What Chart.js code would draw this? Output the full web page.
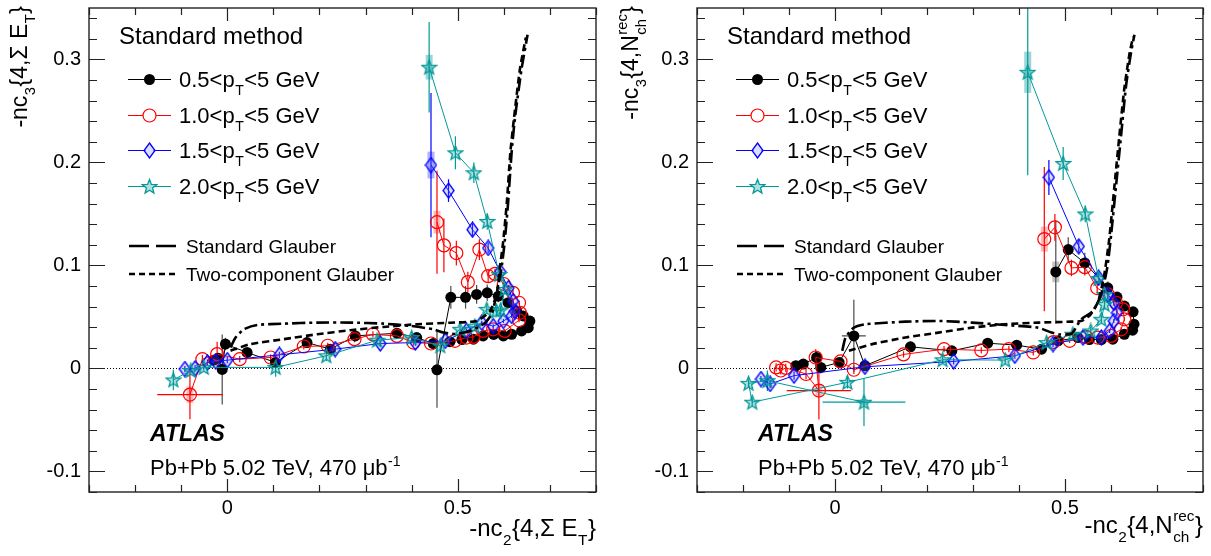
<!DOCTYPE html>
<html>
<head>
<meta charset="utf-8">
<script src="https://cdn.jsdelivr.net/npm/chart.js@4.4.1/dist/chart.umd.min.js"></script>
<style>
  html, body { margin: 0; padding: 0; background: #fff; }
  #wrap { position: relative; width: 1211px; height: 556px; overflow: hidden; background: #fff; }
  canvas { position: absolute; top: 0; }
  #left { left: 0; }
  #right { left: 605px; }
</style>
</head>
<body>
<div id="wrap">
  <canvas id="left" width="605" height="556"></canvas>
  <canvas id="right" width="606" height="556"></canvas>
</div>
<script>
// ---- axis ranges and tick labels ----
const X_MIN = -0.3, X_MAX = 0.8;
const Y_MIN = -0.12, Y_MAX = 0.35;
const xTickLabels = [0, 0.5];
const yTickLabels = [-0.1, 0, 0.1, 0.2, 0.3];

const ptCuts = ['0.5', '1.0', '1.5', '2.0'];
const glauberLabels = ['Standard Glauber', 'Two-component Glauber'];

// ---- left panel: -nc3{4,SumET} vs -nc2{4,SumET} ----
const L_black_x = [-0.030, -0.020, -0.011, -0.004, 0.043, 0.1045, 0.173, 0.2236, 0.2777, 0.368, 0.411, 0.447, 0.483, 0.509, 0.534, 0.555, 0.578, 0.599, 0.617, 0.6385, 0.653, 0.6565, 0.642, 0.628, 0.6095, 0.588, 0.564, 0.541, 0.517, 0.485, 0.455];
const L_black_y = [0.008, 0.010, -0.001, 0.0236, 0.0155, 0.0058, 0.0251, 0.0187, 0.0316, 0.0342, 0.030, 0.0242, 0.026, 0.028, 0.0284, 0.0316, 0.033, 0.0316, 0.0332, 0.0364, 0.0396, 0.046, 0.051, 0.0557, 0.0638, 0.0702, 0.0734, 0.0719, 0.069, 0.069, -0.0013];
const L_black_err = [0.004, 0.004, 0.034, 0.006, 0.004, 0.004, 0.003, 0.003, 0.003, 0.003, 0.003, 0.003, 0.002, 0.002, 0.002, 0.002, 0.002, 0.002, 0.002, 0.002, 0.002, 0.002, 0.003, 0.003, 0.004, 0.006, 0.008, 0.009, 0.011, 0.011, 0.037];

const L_red_x = [-0.081, -0.054, -0.022, 0.027, 0.094, 0.166, 0.218, 0.276, 0.316, 0.368, 0.404, 0.442, 0.494, 0.519, 0.534, 0.555, 0.577, 0.602, 0.633, 0.635, 0.633, 0.620, 0.600, 0.581, 0.566, 0.547, 0.522, 0.497, 0.470, 0.455];
const L_red_y = [-0.0254, 0.009, 0.0139, 0.009, 0.0106, 0.0213, 0.022, 0.0284, 0.033, 0.0316, 0.0251, 0.0242, 0.0268, 0.030, 0.0306, 0.0364, 0.038, 0.0364, 0.0468, 0.054, 0.0638, 0.0734, 0.082, 0.0918, 0.0896, 0.1154, 0.0838, 0.112, 0.1195, 0.142];
const L_red_err = [0.024, 0.004, 0.012, 0.003, 0.003, 0.003, 0.003, 0.003, 0.003, 0.003, 0.003, 0.003, 0.002, 0.002, 0.002, 0.002, 0.002, 0.002, 0.002, 0.002, 0.002, 0.003, 0.004, 0.005, 0.006, 0.010, 0.010, 0.012, 0.026, 0.050];
const L_red_xerr = [0.071, 0, 0, 0, 0, 0, 0, 0, 0, 0, 0, 0, 0, 0, 0, 0, 0, 0, 0, 0, 0, 0, 0, 0, 0, 0, 0, 0, 0, 0];
const L_red_sys = [0.008, 0, 0, 0, 0, 0, 0, 0, 0, 0, 0, 0, 0, 0, 0, 0, 0, 0, 0, 0, 0, 0, 0, 0, 0, 0, 0, 0, 0, 0.011];

const L_blue_x = [-0.092, -0.070, -0.043, -0.025, 0.000, 0.113, 0.234, 0.332, 0.408, 0.473, 0.519, 0.552, 0.577, 0.599, 0.617, 0.624, 0.620, 0.610, 0.592, 0.566, 0.532, 0.480, 0.442];
const L_blue_y = [-0.0006, 0.000, 0.0058, 0.0068, 0.008, 0.0132, 0.0187, 0.0242, 0.0251, 0.0268, 0.0364, 0.0444, 0.041, 0.046, 0.051, 0.0557, 0.0654, 0.078, 0.094, 0.117, 0.1347, 0.1727, 0.1975];
const L_blue_err = [0.003, 0.003, 0.003, 0.003, 0.003, 0.003, 0.003, 0.003, 0.003, 0.002, 0.002, 0.002, 0.002, 0.002, 0.002, 0.002, 0.002, 0.003, 0.004, 0.005, 0.006, 0.011, 0.070];
const L_blue_sys = [0, 0, 0, 0, 0, 0, 0, 0, 0, 0, 0, 0, 0, 0, 0, 0, 0, 0, 0, 0, 0, 0, 0.013];

const L_teal_x = [-0.117, -0.079, -0.051, 0.105, 0.215, 0.325, 0.400, 0.462, 0.505, 0.537, 0.563, 0.584, 0.593, 0.602, 0.590, 0.564, 0.535, 0.495, 0.438];
const L_teal_y = [-0.0112, -0.002, 0.001, 0.001, 0.0123, 0.0274, 0.030, 0.022, 0.038, 0.041, 0.0574, 0.0557, 0.0567, 0.0767, 0.0912, 0.1427, 0.190, 0.2094, 0.2925];
const L_teal_err = [0.010, 0.003, 0.003, 0.009, 0.005, 0.004, 0.004, 0.006, 0.004, 0.004, 0.004, 0.004, 0.004, 0.005, 0.006, 0.008, 0.010, 0.016, 0.044];
const L_teal_sys = [0, 0, 0, 0, 0, 0, 0, 0, 0, 0, 0, 0, 0, 0, 0, 0, 0, 0, 0.012];

const L_std_x = [0.007, 0.018, 0.036, 0.065, 0.1225, 0.195, 0.267, 0.339, 0.397, 0.447, 0.469, 0.494, 0.527, 0.559, 0.5736, 0.5844, 0.595, 0.602, 0.6095, 0.617, 0.624, 0.6385, 0.6515];
const L_std_y = [0.0203, 0.030, 0.038, 0.0422, 0.0435, 0.0445, 0.0445, 0.0435, 0.0413, 0.038, 0.0348, 0.0335, 0.0364, 0.0442, 0.0528, 0.0722, 0.0976, 0.1234, 0.162, 0.2103, 0.2425, 0.2908, 0.324];
const L_two_x = [0.007, 0.050, 0.1225, 0.195, 0.267, 0.339, 0.411, 0.483, 0.541, 0.570, 0.5844, 0.5916, 0.5987, 0.6067, 0.6143, 0.6219, 0.6349, 0.6478];
const L_two_y = [0.0171, 0.0236, 0.0284, 0.0332, 0.0371, 0.0403, 0.0429, 0.0444, 0.0461, 0.0557, 0.0722, 0.098, 0.1234, 0.162, 0.2103, 0.2422, 0.2905, 0.3214];

// ---- right panel: -nc3{4,Nch} vs -nc2{4,Nch} ----
const R_black_x = [-0.085, -0.069, -0.040, -0.031, 0.009, 0.041, 0.065, 0.164, 0.254, 0.332, 0.395, 0.449, 0.485, 0.528, 0.553, 0.579, 0.604, 0.629, 0.647, 0.650, 0.648, 0.629, 0.613, 0.593, 0.543, 0.507, 0.480];
const R_black_y = [0.0026, 0.0042, 0.0106, 0.001, 0.0058, 0.0316, 0.0026, 0.021, 0.0171, 0.0245, 0.0226, 0.0187, 0.0268, 0.030, 0.028, 0.028, 0.0284, 0.0332, 0.0371, 0.043, 0.055, 0.0606, 0.0693, 0.0783, 0.1024, 0.1154, 0.0937];
const R_black_err = [0.004, 0.004, 0.006, 0.006, 0.004, 0.035, 0.004, 0.003, 0.003, 0.003, 0.003, 0.003, 0.003, 0.002, 0.002, 0.002, 0.002, 0.002, 0.002, 0.002, 0.003, 0.004, 0.005, 0.006, 0.010, 0.012, 0.050];
const R_black_xerr = [0, 0, 0, 0, 0, 0.026, 0, 0, 0, 0, 0, 0, 0, 0, 0, 0, 0, 0, 0, 0, 0, 0, 0, 0, 0, 0, 0];
const R_black_sys = [0, 0, 0, 0, 0, 0, 0, 0, 0, 0, 0, 0, 0, 0, 0, 0, 0, 0, 0, 0, 0, 0, 0, 0, 0, 0, 0.01];

const R_red_x = [-0.128, -0.118, -0.107, -0.063, -0.035, -0.042, 0.012, 0.041, 0.149, 0.237, 0.318, 0.378, 0.431, 0.475, 0.510, 0.546, 0.571, 0.600, 0.622, 0.629, 0.626, 0.611, 0.593, 0.570, 0.543, 0.514, 0.478, 0.455];
const R_red_y = [0.001, -0.002, 0.0005, -0.0054, -0.0215, 0.0106, 0.0068, -0.0013, 0.0136, 0.0187, 0.0175, 0.0187, 0.0155, 0.0256, 0.0268, 0.0306, 0.030, 0.0316, 0.038, 0.0477, 0.0574, 0.0638, 0.0719, 0.078, 0.0983, 0.0976, 0.137, 0.1256];
const R_red_err = [0.004, 0.004, 0.004, 0.005, 0.028, 0.008, 0.004, 0.004, 0.003, 0.003, 0.003, 0.003, 0.003, 0.003, 0.002, 0.002, 0.002, 0.002, 0.002, 0.002, 0.002, 0.003, 0.004, 0.005, 0.008, 0.008, 0.013, 0.070];
const R_red_xerr = [0, 0, 0, 0, 0.07, 0.008, 0, 0, 0, 0, 0, 0, 0, 0, 0, 0, 0, 0, 0, 0, 0, 0, 0, 0, 0, 0, 0, 0];
const R_red_sys = [0, 0, 0, 0, 0.006, 0, 0, 0, 0, 0, 0, 0, 0, 0, 0, 0, 0, 0, 0, 0, 0, 0, 0, 0, 0, 0, 0, 0.012];

const R_blue_x = [-0.161, -0.141, -0.089, 0.065, 0.258, 0.391, 0.474, 0.539, 0.579, 0.597, 0.606, 0.613, 0.606, 0.593, 0.573, 0.530, 0.465];
const R_blue_y = [-0.0103, -0.0151, -0.007, 0.0016, 0.0068, 0.0123, 0.0236, 0.030, 0.030, 0.0364, 0.046, 0.054, 0.0638, 0.0719, 0.088, 0.1185, 0.1855];
const R_blue_err = [0.003, 0.004, 0.004, 0.003, 0.003, 0.003, 0.003, 0.002, 0.002, 0.002, 0.002, 0.003, 0.003, 0.004, 0.005, 0.006, 0.017];

const R_teal_x = [0.063, -0.147, -0.188, -0.180, 0.027, 0.234, 0.370, 0.460, 0.517, 0.556, 0.579, 0.586, 0.586, 0.573, 0.544, 0.496, 0.419];
const R_teal_y = [-0.0328, -0.0119, -0.0145, -0.0328, -0.0135, 0.0084, 0.0081, 0.0251, 0.0332, 0.0364, 0.0477, 0.0622, 0.0719, 0.0873, 0.150, 0.199, 0.2876];
const R_teal_err = [0.023, 0.010, 0.004, 0.004, 0.006, 0.004, 0.004, 0.004, 0.004, 0.004, 0.004, 0.005, 0.005, 0.006, 0.008, 0.016, 0.100];
const R_teal_xerr = [0.09, 0, 0, 0, 0, 0, 0, 0, 0, 0, 0, 0, 0, 0, 0, 0, 0];
const R_teal_sys = [0.003, 0, 0, 0, 0, 0, 0, 0, 0, 0, 0, 0, 0, 0, 0, 0, 0.02];

const R_std_x = [0.0158, 0.023, 0.041, 0.0664, 0.153, 0.225, 0.2977, 0.3695, 0.4416, 0.4704, 0.49, 0.515, 0.535, 0.5606, 0.5786, 0.5917, 0.6003, 0.6111, 0.622, 0.6328, 0.6436, 0.651];
const R_std_y = [0.0171, 0.030, 0.0396, 0.0429, 0.0454, 0.0461, 0.0445, 0.0422, 0.0396, 0.0348, 0.033, 0.034, 0.0477, 0.0557, 0.0719, 0.0976, 0.1299, 0.178, 0.2265, 0.2748, 0.307, 0.324];
const R_two_x = [0.0303, 0.081, 0.153, 0.225, 0.2977, 0.3695, 0.4416, 0.5137, 0.535, 0.555, 0.572, 0.585, 0.596, 0.607, 0.618, 0.629, 0.640, 0.648];
const R_two_y = [0.0171, 0.0236, 0.030, 0.0348, 0.0396, 0.0429, 0.0445, 0.0454, 0.046, 0.052, 0.065, 0.090, 0.125, 0.175, 0.225, 0.272, 0.305, 0.322];

// ---- styling ----
const FONT = '"Liberation Sans", Arial, Helvetica, sans-serif';
const TEAL = 'rgb(0,153,153)';
const STYLES = {
  black: { color: '#000000', err: '#4a4a4a', sys: 'rgba(120,120,120,0.45)', marker: 'fcircle' },
  red:   { color: '#ff0000', err: '#ff0000', sys: 'rgba(255,80,80,0.4)', marker: 'ocircle' },
  blue:  { color: '#0000ff', err: '#0000ff', sys: 'rgba(60,60,255,0.4)', marker: 'diamond' },
  teal:  { color: TEAL, err: TEAL, sys: 'rgba(0,153,153,0.4)', marker: 'star' }
};

function diamondMarker(color) {
  const c = document.createElement('canvas');
  c.width = 13; c.height = 17;
  const g = c.getContext('2d');
  g.strokeStyle = color; g.lineWidth = 1.3;
  g.beginPath();
  g.moveTo(6.5, 1); g.lineTo(12, 8.5); g.lineTo(6.5, 16); g.lineTo(1, 8.5); g.closePath();
  g.fillStyle = 'rgba(120,120,255,0.25)'; g.fill();
  g.stroke();
  return c;
}
function starMarker(color) {
  const c = document.createElement('canvas');
  c.width = 17; c.height = 17;
  const g = c.getContext('2d');
  g.strokeStyle = color; g.lineWidth = 1.3;
  g.beginPath();
  for (let k = 0; k < 10; k++) {
    const r = k % 2 === 0 ? 7.5 : 3.2;
    const a = -Math.PI / 2 + k * Math.PI / 5;
    const px = 8.5 + r * Math.cos(a), py = 9 + r * Math.sin(a);
    if (k === 0) g.moveTo(px, py); else g.lineTo(px, py);
  }
  g.closePath();
  g.fillStyle = 'rgba(0,153,153,0.3)'; g.fill();
  g.stroke();
  return c;
}
const DIAMOND = diamondMarker('#0000ff');
const STAR = starMarker(TEAL);

function seriesDataset(xs, ys, style) {
  const ds = {
    data: xs.map((x, i) => ({ x: x, y: ys[i] })),
    showLine: true,
    borderColor: style.color,
    borderWidth: 1,
    tension: 0,
    pointBorderColor: style.color
  };
  if (style.marker === 'fcircle') {
    Object.assign(ds, { pointStyle: 'circle', pointRadius: 5.5, pointBackgroundColor: style.color, pointBorderWidth: 0 });
  } else if (style.marker === 'ocircle') {
    Object.assign(ds, { pointStyle: 'circle', pointRadius: 6.5, pointBackgroundColor: 'rgba(0,0,0,0)', pointBorderWidth: 1.2 });
  } else if (style.marker === 'diamond') {
    Object.assign(ds, { pointStyle: DIAMOND, pointRadius: 7 });
  } else {
    Object.assign(ds, { pointStyle: STAR, pointRadius: 7 });
  }
  return ds;
}

function curveDataset(xs, ys, dash) {
  return {
    data: xs.map((x, i) => ({ x: x, y: ys[i] })),
    showLine: true,
    borderColor: '#000',
    borderWidth: 2.6,
    borderDash: dash,
    pointRadius: 0,
    tension: 0.2
  };
}

// ---- text helpers (sub/superscripts) ----
function font(size, style) { return (style || '') + ' ' + size + 'px ' + FONT; }

function drawRich(ctx, parts, x, y, size, align) {
  const sm = size * 0.64;
  ctx.textAlign = 'left';
  ctx.textBaseline = 'alphabetic';
  const widths = parts.map(p => {
    if (!p.k) { ctx.font = font(size); return ctx.measureText(p.t).width; }
    ctx.font = font(sm);
    let w = ctx.measureText(p.t).width;
    if (p.t2) w = Math.max(w, ctx.measureText(p.t2).width);
    return w + 1;
  });
  const total = widths.reduce((a, b) => a + b, 0);
  let cx = align === 'right' ? x - total : x;
  parts.forEach((p, i) => {
    if (!p.k) { ctx.font = font(size); ctx.fillText(p.t, cx, y); }
    else {
      ctx.font = font(sm);
      if (p.k === 'sub' || p.k === 'subsup') ctx.fillText(p.t, cx + 0.5, y + size * 0.36);
      if (p.k === 'sup') ctx.fillText(p.t, cx + 0.5, y - size * 0.42);
      if (p.k === 'subsup') ctx.fillText(p.t2, cx + 0.5, y - size * 0.5);
    }
    cx += widths[i];
  });
  return total;
}

function legendMarker(ctx, style, x, y) {
  ctx.save();
  if (style.marker === 'fcircle') {
    ctx.fillStyle = style.color; ctx.beginPath(); ctx.arc(x, y, 5.5, 0, Math.PI * 2); ctx.fill();
  } else if (style.marker === 'ocircle') {
    ctx.fillStyle = '#fff'; ctx.strokeStyle = style.color; ctx.lineWidth = 1.2;
    ctx.beginPath(); ctx.arc(x, y, 6.5, 0, Math.PI * 2); ctx.fill(); ctx.stroke();
  } else {
    const img = style.marker === 'diamond' ? DIAMOND : STAR;
    ctx.fillStyle = '#fff'; ctx.fillRect(x - 4, y - 4, 8, 8);
    ctx.drawImage(img, x - img.width / 2, y - img.height / 2);
  }
  ctx.restore();
}

// ---- panel builder ----
function buildPanel(canvasId, panel) {
  const decor = {
    id: 'decor',
    beforeDatasetsDraw(chart) {
      const { ctx, chartArea: a } = chart;
      const xs = chart.scales.x, ys = chart.scales.y;
      ctx.save();
      ctx.beginPath();
      ctx.rect(a.left, a.top, a.right - a.left, a.bottom - a.top);
      ctx.clip();
      // dotted zero line
      const y0 = Math.round(ys.getPixelForValue(0)) + 0.5;
      ctx.strokeStyle = '#000'; ctx.lineWidth = 1; ctx.setLineDash([1, 2]);
      ctx.beginPath(); ctx.moveTo(a.left, y0); ctx.lineTo(a.right, y0); ctx.stroke();
      ctx.setLineDash([]);
      // systematic bands and error bars, back to front
      for (let s = panel.series.length - 1; s >= 0; s--) {
        const ser = panel.series[s];
        for (let i = 0; i < ser.x.length; i++) {
          const px = xs.getPixelForValue(ser.x[i]);
          const py = ys.getPixelForValue(ser.y[i]);
          if (ser.sys && ser.sys[i]) {
            const t = ys.getPixelForValue(ser.y[i] + ser.sys[i]);
            const b = ys.getPixelForValue(ser.y[i] - ser.sys[i]);
            ctx.fillStyle = ser.style.sys;
            ctx.fillRect(px - 3.5, t, 7, b - t);
          }
          ctx.strokeStyle = ser.style.err; ctx.lineWidth = 1.2;
          ctx.beginPath();
          if (ser.err && ser.err[i]) {
            ctx.moveTo(px, ys.getPixelForValue(ser.y[i] + ser.err[i]));
            ctx.lineTo(px, ys.getPixelForValue(ser.y[i] - ser.err[i]));
          }
          if (ser.xerr && ser.xerr[i]) {
            ctx.moveTo(xs.getPixelForValue(ser.x[i] - ser.xerr[i]), py);
            ctx.lineTo(xs.getPixelForValue(ser.x[i] + ser.xerr[i]), py);
          }
          ctx.stroke();
        }
      }
      ctx.restore();
    },
    afterDatasetsDraw(chart) {
      const { ctx, chartArea: a } = chart;
      const xs = chart.scales.x, ys = chart.scales.y;
      ctx.save();
      ctx.strokeStyle = '#222'; ctx.lineWidth = 1.4;
      ctx.strokeRect(a.left, a.top, a.right - a.left, a.bottom - a.top);
      ctx.lineWidth = 1.2;
      ctx.beginPath();
      for (let k = -3; k <= 8; k++) {
        const px = Math.round(xs.getPixelForValue(k / 10)) + 0.5;
        const len = k % 5 === 0 ? 13 : 7;
        ctx.moveTo(px, a.bottom); ctx.lineTo(px, a.bottom - len);
        ctx.moveTo(px, a.top); ctx.lineTo(px, a.top + len);
      }
      for (let k = -12; k <= 34; k += 2) {
        const py = Math.round(ys.getPixelForValue(k / 100)) + 0.5;
        const len = k % 10 === 0 ? 16 : 8;
        ctx.moveTo(a.left, py); ctx.lineTo(a.left + len, py);
        ctx.moveTo(a.right, py); ctx.lineTo(a.right - len, py);
      }
      ctx.stroke();
      ctx.restore();
    },
    afterDraw(chart) {
      const { ctx, chartArea: a } = chart;
      const L = a.left;
      ctx.save();
      ctx.fillStyle = '#000';
      ctx.textAlign = 'left'; ctx.textBaseline = 'alphabetic';
      ctx.font = font(24);
      ctx.fillText('Standard method', L + 30, 44);
      const rows = [79, 115, 150, 186];
      panel.series.slice().reverse().forEach((ser, i) => {
        const yc = rows[i];
        ctx.strokeStyle = ser.style.color; ctx.lineWidth = 1;
        ctx.beginPath(); ctx.moveTo(L + 39, yc + 0.5); ctx.lineTo(L + 82, yc + 0.5); ctx.stroke();
        legendMarker(ctx, ser.style, L + 60.5, yc + 0.5);
        ctx.fillStyle = '#000';
        drawRich(ctx, [{ t: ptCuts[i] + '<p' }, { t: 'T', k: 'sub' }, { t: '<5 GeV' }], L + 90, yc + 8, 22);
      });
      // Glauber legend
      ctx.strokeStyle = '#000'; ctx.lineWidth = 2.6;
      ctx.setLineDash([20, 7]);
      ctx.beginPath(); ctx.moveTo(L + 40, 246); ctx.lineTo(L + 87, 246); ctx.stroke();
      ctx.setLineDash([6, 4]);
      ctx.beginPath(); ctx.moveTo(L + 40, 274); ctx.lineTo(L + 87, 274); ctx.stroke();
      ctx.setLineDash([]);
      ctx.font = font(19);
      ctx.fillText(glauberLabels[0], L + 97, 253);
      ctx.fillText(glauberLabels[1], L + 97, 281);
      // ATLAS label
      ctx.font = font(23, 'italic bold');
      ctx.fillText('ATLAS', L + 61, 441);
      drawRich(ctx, [{ t: 'Pb+Pb 5.02 TeV, 470 \u03bcb' }, { t: '-1', k: 'sup' }], L + 61, 475, 22);
      // x title
      drawRich(ctx, panel.xTitle, a.right, panel.xTitleY, 24, 'right');
      // y title (rotated, right aligned to the top)
      ctx.translate(panel.yTitleX, a.top - 2);
      ctx.rotate(-Math.PI / 2);
      drawRich(ctx, panel.yTitle, 0, 0, 23, 'right');
      ctx.restore();
    }
  };

  const datasets = [
    curveDataset(panel.std.x, panel.std.y, [13, 4, 3, 4]),
    curveDataset(panel.two.x, panel.two.y, [7, 4])
  ].concat(panel.series.map(s => seriesDataset(s.x, s.y, s.style)));

  const tickFont = { family: FONT, size: 20 };
  return new Chart(document.getElementById(canvasId), {
    type: 'scatter',
    data: { datasets: datasets },
    options: {
      responsive: false,
      animation: false,
      devicePixelRatio: 1,
      layout: { padding: { left: 0, top: 5, right: panel.padRight, bottom: 0 } },
      plugins: { legend: { display: false }, tooltip: { enabled: false } },
      scales: {
        x: {
          type: 'linear', min: X_MIN, max: X_MAX,
          afterBuildTicks: s => { s.ticks = xTickLabels.map(v => ({ value: v })); },
          afterFit: s => { s.height = 64; s.paddingLeft = 0; s.paddingRight = 0; },
          grid: { display: false, drawTicks: false },
          border: { display: false },
          ticks: { font: tickFont, color: '#000', padding: 4, maxRotation: 0, autoSkip: false,
                   callback: v => String(v) }
        },
        y: {
          type: 'linear', min: Y_MIN, max: Y_MAX,
          afterBuildTicks: s => { s.ticks = yTickLabels.map(v => ({ value: v })); },
          afterFit: s => { s.width = panel.yAxisWidth; s.paddingTop = 0; s.paddingBottom = 0; },
          grid: { display: false, drawTicks: false },
          border: { display: false },
          ticks: { font: tickFont, color: '#000', padding: 8, autoSkip: false,
                   callback: v => String(v) }
        }
      }
    },
    plugins: [decor]
  });
}

// series listed top-most first (teal drawn over blue over red over black)
buildPanel('left', {
  padRight: 9, yAxisWidth: 89,
  std: { x: L_std_x, y: L_std_y }, two: { x: L_two_x, y: L_two_y },
  series: [
    { x: L_teal_x, y: L_teal_y, err: L_teal_err, sys: L_teal_sys, style: STYLES.teal },
    { x: L_blue_x, y: L_blue_y, err: L_blue_err, sys: L_blue_sys, style: STYLES.blue },
    { x: L_red_x, y: L_red_y, err: L_red_err, xerr: L_red_xerr, sys: L_red_sys, style: STYLES.red },
    { x: L_black_x, y: L_black_y, err: L_black_err, style: STYLES.black }
  ],
  xTitle: [{ t: '-nc' }, { t: '2', k: 'sub' }, { t: '{4,\u03a3 E' }, { t: 'T', k: 'sub' }, { t: '}' }],
  yTitle: [{ t: '-nc' }, { t: '3', k: 'sub' }, { t: '{4,\u03a3 E' }, { t: 'T', k: 'sub' }, { t: '}' }],
  xTitleY: 536, yTitleX: 27
});

buildPanel('right', {
  padRight: 7, yAxisWidth: 92,
  std: { x: R_std_x, y: R_std_y }, two: { x: R_two_x, y: R_two_y },
  series: [
    { x: R_teal_x, y: R_teal_y, err: R_teal_err, xerr: R_teal_xerr, sys: R_teal_sys, style: STYLES.teal },
    { x: R_blue_x, y: R_blue_y, err: R_blue_err, style: STYLES.blue },
    { x: R_red_x, y: R_red_y, err: R_red_err, xerr: R_red_xerr, sys: R_red_sys, style: STYLES.red },
    { x: R_black_x, y: R_black_y, err: R_black_err, xerr: R_black_xerr, sys: R_black_sys, style: STYLES.black }
  ],
  xTitle: [{ t: '-nc' }, { t: '2', k: 'sub' }, { t: '{4,N' }, { t: 'ch', k: 'subsup', t2: 'rec' }, { t: '}' }],
  yTitle: [{ t: '-nc' }, { t: '3', k: 'sub' }, { t: '{4,N' }, { t: 'ch', k: 'subsup', t2: 'rec' }, { t: '}' }],
  xTitleY: 533, yTitleX: 33
});
</script>
</body>
</html>
